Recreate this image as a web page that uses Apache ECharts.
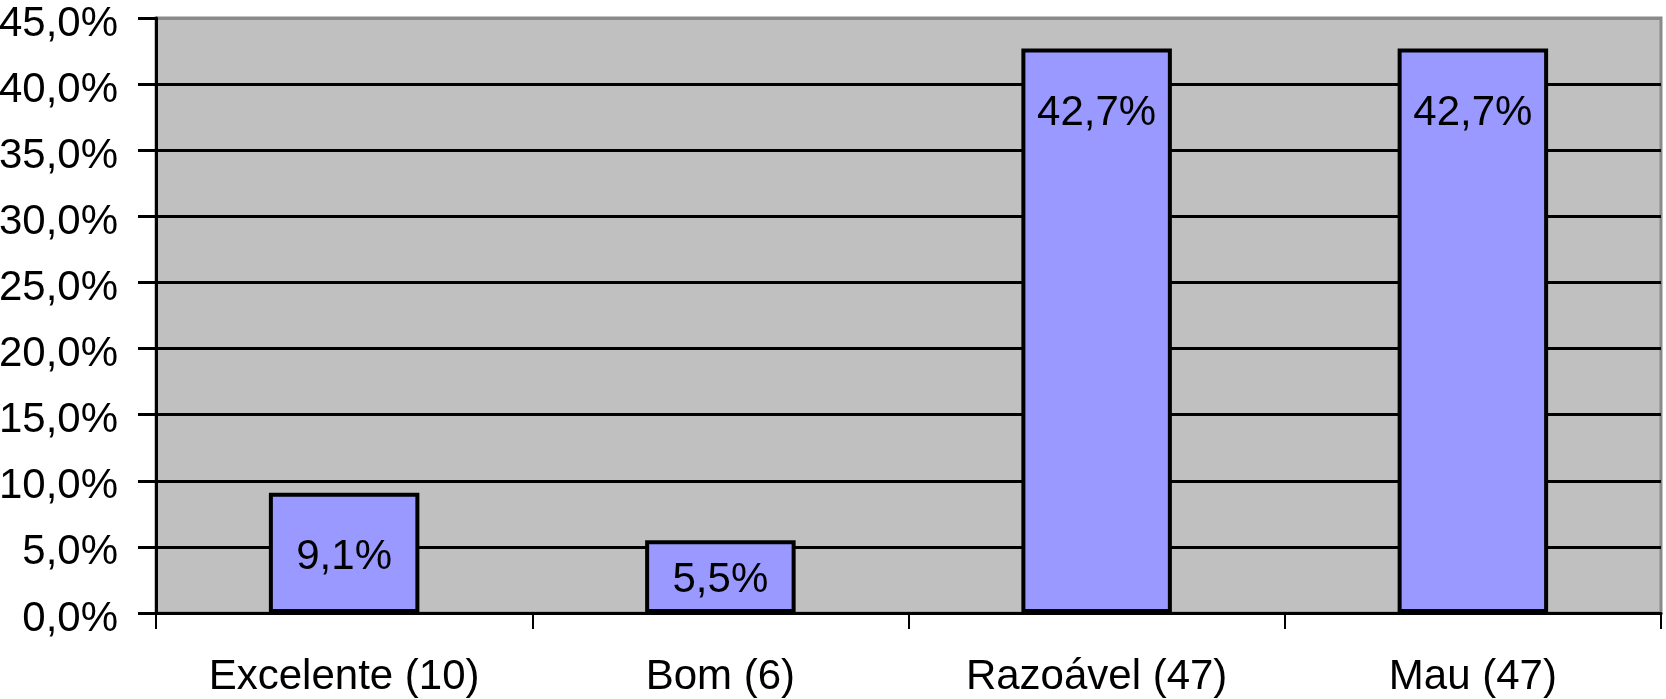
<!DOCTYPE html>
<html>
<head>
<meta charset="utf-8">
<script src="https://cdn.jsdelivr.net/npm/echarts@6/dist/echarts.min.js"></script>
<style>
  html, body { margin: 0; padding: 0; background: #ffffff; }
  #chart { width: 1666px; height: 699px; }
</style>
</head>
<body>
<div id="chart"></div>
<script>
const categories = ['Excelente (10)', 'Bom (6)', 'Razoável (47)', 'Mau (47)'];
const values = [9.1, 5.5, 42.7, 42.7];
const yMin = 0;
const yMax = 45;
const yStep = 5;

const fmt = (v) => v.toFixed(1).replace('.', ',') + '%';
const FONT = "'Liberation Sans', Arial, Helvetica, sans-serif";

const splitColors = [];
for (let v = yMin; v <= yMax; v += yStep) {
  splitColors.push(v === yMax ? '#8a8a8a' : '#000000');
}

const seriesData = values.map((v) => ({
  value: v,
  label: v < 7 ? { position: 'inside', offset: [0, 4] } : { position: 'insideTop', distance: 44 }
}));

const chart = echarts.init(document.getElementById('chart'), null, { renderer: 'canvas' });
chart.setOption({
  animation: false,
  backgroundColor: '#ffffff',
  grid: {
    left: 156, right: 5, top: 18, bottom: 86,
    containLabel: false,
    outerBoundsMode: 'none',
    show: true,
    backgroundColor: '#c0c0c0',
    borderColor: '#8a8a8a',
    borderWidth: 3
  },
  xAxis: {
    type: 'category',
    data: categories,
    boundaryGap: true,
    axisLine: { show: true, lineStyle: { color: '#000', width: 3 } },
    axisTick: { show: true, length: 16, inside: false, lineStyle: { color: '#000', width: 2 } },
    axisLabel: { color: '#000', fontSize: 42, fontFamily: FONT, margin: 43 }
  },
  yAxis: {
    type: 'value',
    min: yMin, max: yMax, interval: yStep,
    axisLine: { show: true, lineStyle: { color: '#000', width: 3 } },
    axisTick: { show: true, length: 18, lineStyle: { color: '#000', width: 3 } },
    axisLabel: {
      color: '#000', fontSize: 42, fontFamily: FONT, margin: 38,
      formatter: (v) => '{a|' + fmt(v) + '}',
      rich: { a: { color: '#000', fontSize: 42, fontFamily: FONT, padding: [12, 0, 0, 0] } }
    },
    splitLine: { show: true, lineStyle: { color: splitColors, width: 3 } }
  },
  series: [{
    type: 'bar',
    data: seriesData,
    barWidth: '40%',
    itemStyle: { color: '#9999ff', borderColor: '#000', borderWidth: 4 },
    label: {
      show: true,
      color: '#000',
      fontSize: 42,
      fontFamily: FONT,
      formatter: (p) => fmt(p.value)
    }
  }]
});
</script>
</body>
</html>
